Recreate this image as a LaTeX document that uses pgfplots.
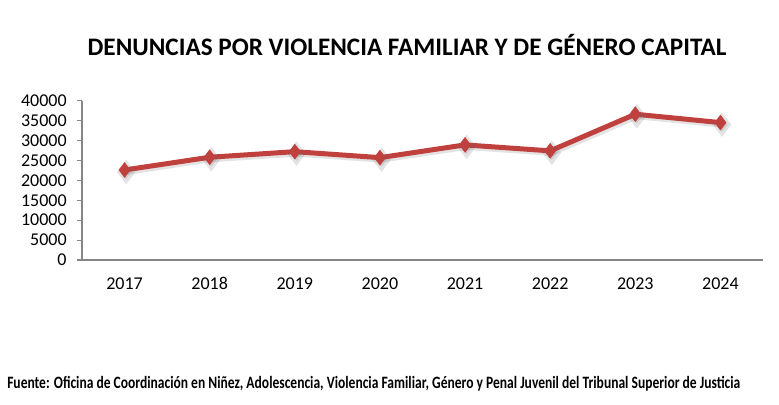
\documentclass[border=0pt]{standalone}
\usepackage{pgfplots}
\pgfplotsset{compat=1.18}
\usepackage{fontspec}
\setmainfont{Carlito}
\newfontfamily\footfont{Carlito}
\definecolor{linered}{RGB}{192,64,62}
\definecolor{axgray}{RGB}{134,134,134}
\begin{document}
\begin{tikzpicture}
\useasboundingbox (0,0) rectangle (584.25pt,-303pt);
\begin{axis}[
  at={(61.5pt,-195pt)}, anchor=south west,
  scale only axis,
  width=510.75pt, height=119.5pt,
  xmin=-0.5, xmax=7.5, ymin=0, ymax=40000,
  axis lines*=left,
  axis line style={axgray, line width=0.8pt},
  xtick={0,...,7},
  xticklabels={2017,2018,2019,2020,2021,2022,2023,2024},
  x tick style={draw=none},
  extra x ticks={-0.5,0.5,...,7.5},
  extra x tick labels={},
  extra x tick style={tick style={draw=axgray, line width=0.8pt}, major tick length=4pt, tick align=outside},
  ytick={0,5000,...,40000},
  y tick style={draw=axgray, line width=0.8pt},
  major tick length=4pt, tick align=outside,
  /pgf/number format/assume math mode=true,
  /pgf/number format/set thousands separator={},
  scaled y ticks=false,
  ticklabel style={font=\fontsize{13.5}{14}\selectfont, text=black},
  xticklabel style={anchor=north, text height=9.5pt, text depth=0pt, yshift=-5pt},
  yticklabel style={xshift=-4pt},
  clip=false,
]
\addplot[draw=black!60, opacity=0.18, line width=4.5pt, mark=diamond*, mark size=5.5pt,
  mark options={fill=black!60, draw=black!60}, shift={(1.2pt,-1.5pt)}]
  coordinates {(0,22600)(1,25800)(2,27200)(3,25700)(4,28900)(5,27400)(6,36600)(7,34500)};
\addplot[draw=linered, line width=3.75pt, mark=diamond*, mark size=5.5pt,
  mark options={fill=linered, draw=linered, line width=0.5pt}]
  coordinates {(0,22600)(1,25800)(2,27200)(3,25700)(4,28900)(5,27400)(6,36600)(7,34500)};
\end{axis}
\node[anchor=base, font=\bfseries\fontsize{18.9}{19}\selectfont, inner sep=0pt] at (305.25pt,-41.25pt)
  {DENUNCIAS POR VIOLENCIA FAMILIAR Y DE GÉNERO CAPITAL};
\node[anchor=base west, inner sep=0pt] at (5.25pt,-291pt)
  {\resizebox{549.75pt}{\height}{\footfont\bfseries\fontsize{13}{14}\selectfont Fuente: Oficina de Coordinación en Niñez, Adolescencia, Violencia Familiar, Género y Penal Juvenil del Tribunal Superior de Justicia}};
\end{tikzpicture}
\end{document}
